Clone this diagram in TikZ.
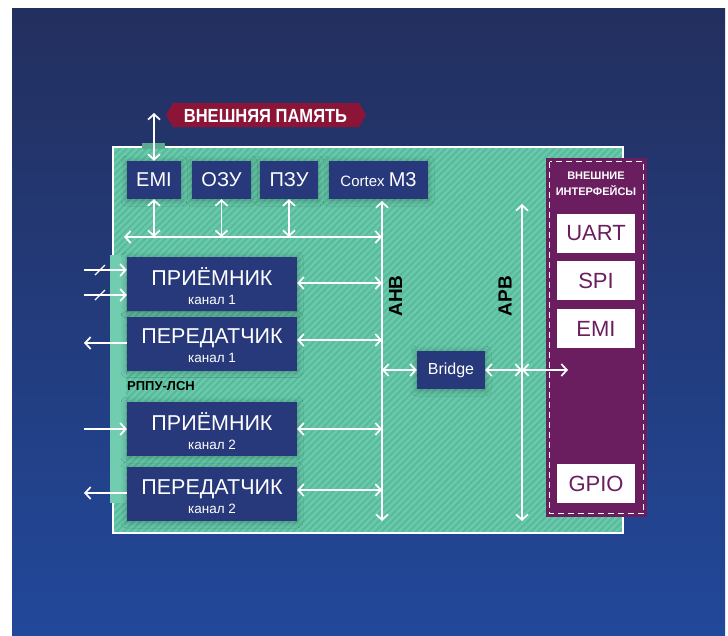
\documentclass[tikz,border=0pt]{standalone}
\usepackage{fontspec}
\setmainfont{Liberation Sans}
\newfontfamily\labelfont[FakeStretch=0.87]{Liberation Sans}
\usetikzlibrary{arrows.meta,patterns.meta,shadows.blur,calc}
\definecolor{bgtop}{HTML}{232F5E}
\definecolor{bgmid}{HTML}{233A7C}
\definecolor{bgbot}{HTML}{22489A}
\definecolor{chipgreen}{HTML}{69CAAB}
\definecolor{stripe}{HTML}{58B99B}
\definecolor{navy}{HTML}{27397A}
\definecolor{purp}{HTML}{6B1E5F}
\definecolor{crimson}{HTML}{8C1537}
\tikzset{
  navybox/.style={fill=navy, text=white, inner sep=0pt, minimum height=38pt,
    blur shadow={shadow xshift=0pt, shadow yshift=-1pt, shadow blur radius=6pt, shadow opacity=30}},
  chanbox/.style={navybox, minimum width=170pt, minimum height=54pt},
  ifbox/.style={fill=white, text=purp, inner sep=0pt, minimum width=78pt, minimum height=39pt,
    font=\fontsize{22}{24}\selectfont},
  bigtxt/.style={anchor=base, text=white, inner sep=0pt, font=\fontsize{21.5}{22}\selectfont},
  smalltxt/.style={anchor=base, text=white, inner sep=0pt, font=\fontsize{13.5}{15}\selectfont},
  buslabel/.style={text=black, inner sep=0pt, rotate=90, font=\bfseries\fontsize{19}{20}\selectfont},
  tip/.tip={Straight Barb[length=5.5pt, width=12pt]},
  link/.style={draw=white, line width=1.7pt, tip-tip},
  onelink/.style={draw=white, line width=1.7pt, -tip},
}
\begin{document}
\begin{tikzpicture}[x=1pt, y=-1pt]
\useasboundingbox (0,0) rectangle (728,635);
% background
\shade[top color=bgtop, middle color=bgmid, bottom color=bgbot] (12,8) rectangle (725,635);
% chip area
\fill[chipgreen] (113,147) rectangle (623,533);
\fill[pattern={Lines[angle=45, distance=4.8pt, line width=2pt]}, pattern color=stripe] (113,147) rectangle (623,533);
\draw[white, line width=2pt] (113,147) rectangle (623,533);
\fill[chipgreen!95!white] (110,255) rectangle (126,503);
\fill[chipgreen!85!black] (142,143) rectangle (165,149);
% interfaces panel
\fill[purp] (546,158) rectangle (647,517);
\draw[white, line width=1pt, dash pattern=on 6pt off 4pt] (549.5,161.5) rectangle (643.5,513.5);
\node[text=white, font=\bfseries\fontsize{11}{12}\selectfont, inner sep=0pt] (iftitle1) at (596,176) {ВНЕШНИЕ};
\node[text=white, font=\bfseries\fontsize{11}{12}\selectfont, inner sep=0pt] (iftitle2) at (596,191) {ИНТЕРФЕЙСЫ};
\node[ifbox] (uart) at (596,233) {UART};
\node[ifbox] (spi) at (596,280.5) {SPI};
\node[ifbox] (emi2) at (596,328.5) {EMI};
\node[ifbox] (gpio) at (596,483.5) {GPIO};
% top label
\fill[crimson] (166,115) -- (173,103) -- (359,103) -- (366,115) -- (359,127) -- (173,127) -- cycle;
\node[text=white, inner sep=0pt, font=\labelfont\bfseries\fontsize{19}{20}\selectfont] (memlabel) at (265.5,115.5) {ВНЕШНЯЯ ПАМЯТЬ};
% top boxes
\node[navybox, minimum width=54pt] (emi) at (154,180) {\fontsize{20}{22}\selectfont EMI};
\node[navybox, minimum width=59pt] (ozu) at (221.5,180) {\fontsize{20}{22}\selectfont ОЗУ};
\node[navybox, minimum width=58pt] (pzu) at (289,180) {\fontsize{20}{22}\selectfont ПЗУ};
\node[navybox, minimum width=99pt] (cortex) at (378.5,180) {\fontsize{15}{17}\selectfont Cortex \fontsize{20}{22}\selectfont M3};
% channel boxes
\node[chanbox] (rx1) at (212,284) {};
\node[chanbox] (tx1) at (212,343.5) {};
\node[chanbox] (rx2) at (212,429) {};
\node[chanbox] (tx2) at (212,494) {};
\node[bigtxt] (rx1a) at ($(rx1.center)+(0,1)$) {ПРИЁМНИК};
\node[smalltxt] (rx1b) at ($(rx1.center)+(0,20)$) {канал 1};
\node[bigtxt] (tx1a) at ($(tx1.center)+(0,0)$) {ПЕРЕДАТЧИК};
\node[smalltxt] (tx1b) at ($(tx1.center)+(0,19)$) {канал 1};
\node[bigtxt] (rx2a) at ($(rx2.center)+(0,1)$) {ПРИЁМНИК};
\node[smalltxt] (rx2b) at ($(rx2.center)+(0,20)$) {канал 2};
\node[bigtxt] (tx2a) at ($(tx2.center)+(0,0)$) {ПЕРЕДАТЧИК};
\node[smalltxt] (tx2b) at ($(tx2.center)+(0,19)$) {канал 2};
\node[anchor=west, inner sep=0pt, text=black, font=\bfseries\fontsize{13}{14}\selectfont] (rppu) at (127,386) {РППУ-ЛСН};
% bridge
\node[navybox, minimum width=68pt] (bridge) at (451,370) {\fontsize{16}{18}\selectfont Bridge};
% bus coordinates
\coordinate (ahbtop) at (382,201);
\coordinate (ahbbot) at (382,521);
\coordinate (apbtop) at (522,204);
\coordinate (apbbot) at (522,521);
\coordinate (busL) at (124,237);
\coordinate (busR) at (382,237);
\coordinate (extmem) at (154,113);
\coordinate (ifin) at (568,370);
% buses
\draw[link] (ahbtop) -- (ahbbot);
\draw[link] (apbtop) -- (apbbot);
\draw[link] (busL) -- (busR);
\node[buslabel] (ahb) at (395.5,296) {AHB};
\node[buslabel] (apb) at (505,296) {APB};
% memory links
\draw[link] (emi.south) -- (emi.south |- busR);
\draw[link] (ozu.south) -- (ozu.south |- busR);
\draw[link] (pzu.south) -- (pzu.south |- busR);
\draw[link] (emi.north) -- (extmem);
% channel links to AHB
\draw[link] (rx1.east |- 0,283) -- (ahbtop |- 0,283);
\draw[link] (tx1.east |- 0,340) -- (ahbtop |- 0,340);
\draw[link] (rx2.east |- 0,429) -- (ahbtop |- 0,429);
\draw[link] (tx2.east |- 0,490) -- (ahbtop |- 0,490);
% bridge links
\draw[link] (ahbtop |- bridge.west) -- (bridge.west);
\draw[link] (bridge.east) -- (apbtop |- bridge.east);
\draw[link] (apbtop |- bridge.east) -- (ifin);
% external channel lines
\coordinate (in1a) at (84,270);
\coordinate (in1b) at (84,295);
\coordinate (out1) at (84,343);
\coordinate (in2) at (84,429);
\coordinate (out2) at (84,493);
\draw[onelink] (in1a) -- (rx1.west |- in1a);
\draw[onelink] (in1b) -- (rx1.west |- in1b);
\draw[white, line width=1.2pt] (95,275) -- (105,265);
\draw[white, line width=1.2pt] (95,300) -- (105,290);
\draw[onelink] (tx1.west |- out1) -- (out1);
\draw[onelink] (in2) -- (rx2.west |- in2);
\draw[onelink] (tx2.west |- out2) -- (out2);
\end{tikzpicture}
\end{document}
